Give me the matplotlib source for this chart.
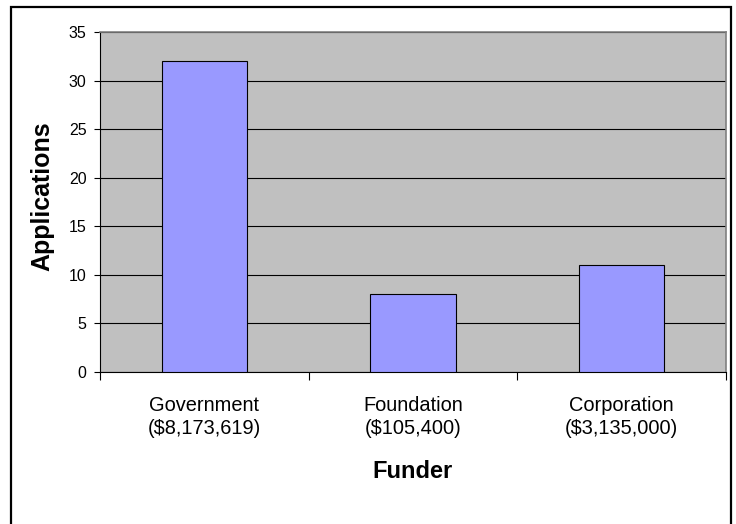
import matplotlib
matplotlib.use("Agg")
import matplotlib.pyplot as plt
from matplotlib.patches import Rectangle
from matplotlib.ticker import FixedLocator

categories = ["Government\n($8,173,619)", "Foundation\n($105,400)", "Corporation\n($3,135,000)"]
applications = [32, 8, 11]
yticks = [0, 5, 10, 15, 20, 25, 30, 35]

plt.rcParams['font.family'] = ['Liberation Sans', 'DejaVu Sans']

W, H = 736, 524
fig = plt.figure(figsize=(W / 100, H / 100), dpi=100)
ax = fig.add_axes([100 / W, 1 - 372 / H, 626 / W, 340 / H])
ax.set_facecolor('#C0C0C0')

x = list(range(len(categories)))
ax.bar(x, applications, width=0.41, color='#9999FF', edgecolor='black', linewidth=0.8, zorder=3)

ax.set_xlim(-0.5, len(categories) - 0.5)
ax.set_ylim(0, 35)
ax.set_yticks(yticks)
ax.yaxis.grid(True, color='black', linewidth=0.8, zorder=1)
ax.set_axisbelow(True)

ax.set_xticks(x)
ax.set_xticklabels(categories, fontsize=14.4, linespacing=1.3)
ax.xaxis.set_minor_locator(FixedLocator([i - 0.5 for i in range(len(categories) + 1)]))
ax.tick_params(axis='x', which='major', length=0, pad=17)
ax.tick_params(axis='x', which='minor', length=6, width=0.8, color='black', direction='out')
ax.tick_params(axis='y', length=4.3, width=0.8, color='black', direction='out', pad=5.5, labelsize=11.5)

for s in ['left', 'bottom']:
    ax.spines[s].set_color('black')
    ax.spines[s].set_linewidth(0.8)
for s in ['top', 'right']:
    ax.spines[s].set_color('#808080')
    ax.spines[s].set_linewidth(1.2)

fig.text(42 / W, 1 - 196 / H, "Applications", rotation=90, ha='center', va='center',
         fontsize=18, fontweight='bold')
fig.text(413 / W, 1 - 472 / H, "Funder", ha='center', va='center',
         fontsize=17, fontweight='bold')

frame = Rectangle((10.5 / W, -0.1), 720.5 / W, (1 - 7 / H) + 0.1, transform=fig.transFigure,
                  fill=False, edgecolor='black', linewidth=1.6, clip_on=False)
fig.patches.append(frame)

fig.savefig('out.png', dpi=100)
